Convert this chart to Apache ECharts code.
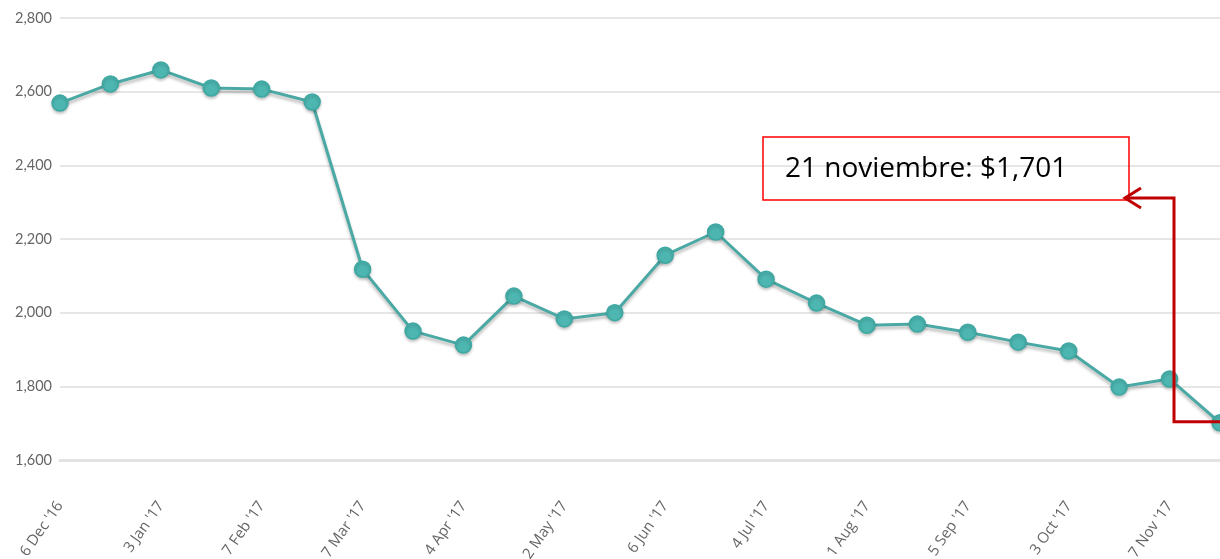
<!DOCTYPE html>
<html>
<head>
<meta charset="utf-8">
<script src="https://cdn.jsdelivr.net/npm/echarts@6/dist/echarts.min.js"></script>
<style>
html,body{margin:0;padding:0;background:#fff;}
#c{width:1220px;height:559px;}
</style>
</head>
<body>
<div id="c"></div>
<script>
var categories = ["6 Dec '16","20 Dec '16","3 Jan '17","17 Jan '17","7 Feb '17","21 Feb '17","7 Mar '17","21 Mar '17","4 Apr '17","18 Apr '17","2 May '17","16 May '17","6 Jun '17","20 Jun '17","4 Jul '17","18 Jul '17","1 Aug '17","15 Aug '17","5 Sep '17","19 Sep '17","3 Oct '17","17 Oct '17","7 Nov '17","21 Nov '17"];
var prices = [2569,2621,2659,2610,2607,2572,2118,1950,1912,2045,1983,2000,2156,2219,2091,2026,1966,1969,1947,1920,1896,1798,1820,1701];
var yTicks = [1600,1800,2000,2200,2400,2600,2800];
var annotationText = "21 noviembre: $1,701";

var chart = echarts.init(document.getElementById('c'), null, {renderer:'canvas'});
var option = {
  animation:false,
  backgroundColor:'#fff',
  grid:{left:60,right:0,top:18,bottom:99,containLabel:false,outerBoundsMode:'none'},
  xAxis:{
    type:'category',
    data:categories,
    boundaryGap:false,
    axisLine:{show:true,lineStyle:{color:'#e3e3e3',width:3}},
    axisTick:{show:false},
    axisLabel:{interval:1,rotate:55,margin:43,color:'#666',fontFamily:'Open Sans',fontSize:15,hideOverlap:false},
    splitLine:{show:false}
  },
  yAxis:{
    type:'value',
    min:yTicks[0],max:yTicks[yTicks.length-1],interval:200,
    axisLine:{show:false},axisTick:{show:false},
    axisLabel:{color:'#666',fontFamily:'Lato',fontSize:14.5,margin:8,
      formatter:function(v){return v.toLocaleString('en-US');}},
    splitLine:{lineStyle:{color:'#e6e6e6',width:2}}
  },
  series:[{
    type:'line',
    data:prices,
    symbol:'circle',
    symbolSize:16,
    lineStyle:{color:'#4aa9a4',width:3,shadowColor:'rgba(0,0,0,0.25)',shadowBlur:3,shadowOffsetY:3},
    itemStyle:{color:'#4db6b1',borderColor:'#3ea8a2',borderWidth:1.5,shadowColor:'rgba(0,0,0,0.2)',shadowBlur:3,shadowOffsetY:2},
    z:3
  }]
};
chart.setOption(option);

var last = chart.convertToPixel({seriesIndex:0},[prices.length-1, prices[prices.length-1]]);
var vx = last[0]-46;
var topY = 198;
chart.setOption({
  graphic:[
    {type:'rect',shape:{x:763,y:137,width:366,height:63},style:{fill:null,stroke:'#ff0000',lineWidth:1.5},z:10},
    {type:'text',x:785,y:169,style:{text:annotationText,fill:'#000',font:'28px "Open Sans"',verticalAlign:'middle'},z:11},
    {type:'polyline',shape:{points:[[last[0]+2,last[1]-1],[vx,last[1]-1],[vx,topY],[1125,topY]]},style:{stroke:'#c00000',lineWidth:3,fill:null},z:12},
    {type:'polyline',shape:{points:[[1141,188],[1125,198],[1141,208]]},style:{stroke:'#c00000',lineWidth:3,fill:null},z:12}
  ]
});
</script>
</body>
</html>
